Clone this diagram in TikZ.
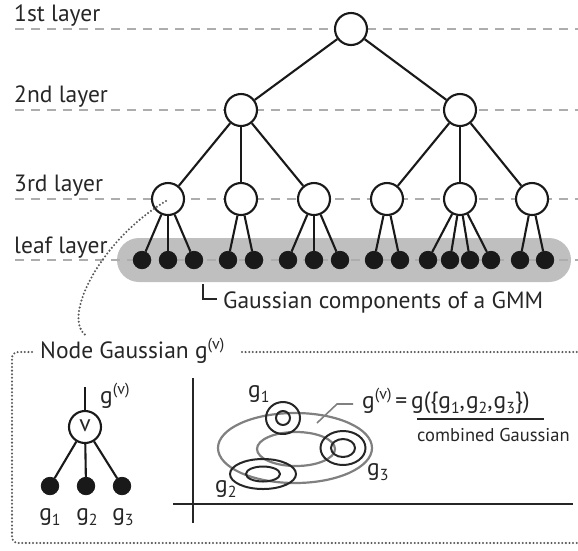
\documentclass[tikz,border=0pt]{standalone}
\usepackage{fontspec}
\setmainfont{PT Sans}
\newcommand\gsup[1]{\raisebox{0.75ex}{\fontsize{16}{16}\selectfont #1}}
\newcommand\gsub[1]{\raisebox{-0.45ex}{\fontsize{16}{16}\selectfont #1}}
\begin{document}
\begin{tikzpicture}[x=1pt,y=-1pt,
  layerline/.style={black!32, line width=2.2pt, dash pattern=on 9pt off 7pt},
  treenode/.style={circle, draw=black!90, fill=white, line width=2.1pt, minimum size=32pt, inner sep=0pt},
  leaf/.style={circle, draw=black!90, fill=black!90, line width=0.8pt, minimum size=17.5pt, inner sep=0pt},
  edge/.style={line width=2.1pt, draw=black!90},
  txt/.style={anchor=base west, inner sep=0pt, text=black!85, font=\fontsize{23.5}{27}\selectfont},
  smalltxt/.style={anchor=base west, inner sep=0pt, text=black!85, font=\fontsize{18.5}{22}\selectfont},
  dotline/.style={black!65, line width=2.3pt, line cap=round, dash pattern=on 0pt off 3.6pt},
  axis/.style={line width=1.7pt, draw=black!85},
  comp/.style={line width=2pt, draw=black!85},
  mix/.style={line width=2.2pt, draw=black!50},
]
\useasboundingbox (0,0) rectangle (578,550);

% layer labels and dashed guide lines
\node[txt] (t1) at (14,21) {1st layer};
\node[txt] (t2) at (14,102) {2nd layer};
\node[txt] (t3) at (14,191) {3rd layer};
\node[txt] (t4) at (14,253) {leaf layer};
\foreach \y in {29,110,199} \draw[layerline] (15,\y) -- (578,\y);

% band holding the leaf Gaussians
\fill[black!25, rounded corners=22pt] (117,238) rectangle (571,282);
\draw[layerline] (15,260) -- (578,260);

% tree
\node[treenode] (r) at (351,29) {};
\node[treenode] (a) at (241,110) {};
\node[treenode] (b) at (460,110) {};
\foreach \n/\x in {c1/168,c2/241,c3/314,c4/387,c5/460,c6/532}
  \node[treenode] (\n) at (\x,199) {};
\foreach \n/\x in {l1/142,l2/168,l3/194,l4/228,l5/254,l6/288,l7/314,l8/340,
                   l9/374,l10/400,l11/428,l12/450,l13/470,l14/491,l15/520,l16/545}
  \node[leaf] (\n) at (\x,260) {};
\foreach \p/\c in {r/a,r/b,a/c1,a/c2,a/c3,b/c4,b/c5,b/c6,
                   c1/l1,c1/l2,c1/l3,c2/l4,c2/l5,c3/l6,c3/l7,c3/l8,
                   c4/l9,c4/l10,c5/l11,c5/l12,c5/l13,c5/l14,c6/l15,c6/l16}
  \draw[edge] (\p) -- (\c);

% label of the leaf band
\node[txt] (gmm) at (223,308) {Gaussian components of a GMM};
\draw[line width=1.3pt, black!85] (203,284) -- (203,299) -- (217,299);

% dotted pointer from a node to the detail box
\coordinate (boxentry) at (87,336);
\draw[dotline] ([shift={(-2,2)}]c1.center) .. controls (100,240) and (60,320) .. (boxentry);

% detail box
\node[txt] (title) at (40,358) {Node Gaussian g\gsup{(v)}};
\draw[dotline, rounded corners=6pt] (32,352) -- (12,352) -- (12,543) -- (578,543);
\draw[dotline] (242,352) -- (578,352);

% small tree: node v and its children
\node[treenode, font=\fontsize{23.5}{27}\selectfont, text=black!85] (v) at (85,427) {\raisebox{0.3ex}{v}};
\coordinate (vtop) at (85,387);
\draw[edge] (vtop) -- (v);
\node[txt] (gv) at (100,403) {g\gsup{(v)}};
\node[leaf] (s1) at (50,486) {};
\node[leaf] (s2) at (86,486) {};
\node[leaf] (s3) at (122,486) {};
\foreach \c in {s1,s2,s3} \draw[edge] (v) -- (\c);
\node[txt, anchor=base] (sg1) at (50,520) {g\gsub{1}};
\node[txt, anchor=base] (sg2) at (87,520) {g\gsub{2}};
\node[txt, anchor=base] (sg3) at (123,520) {g\gsub{3}};

% axes of the feature space
\coordinate (ytop) at (193,378);
\coordinate (ybot) at (193,523);
\coordinate (xl) at (173,504);
\coordinate (xr) at (573,504);
\draw[axis] (ytop) -- (ybot);
\draw[axis] (xl) -- (xr);

% combined Gaussian
\draw[mix] (295,448) ellipse [x radius=77pt, y radius=35pt];
\draw[mix] (296,449) ellipse [x radius=39pt, y radius=17pt];

% component Gaussians
\draw[comp] (283,418) ellipse [x radius=17pt, y radius=16pt];
\draw[comp] (283,418) ellipse [x radius=7pt, y radius=7pt];
\draw[comp] (343,448) ellipse [x radius=22.5pt, y radius=17pt];
\draw[comp] (343,448) ellipse [x radius=12pt, y radius=9pt];
\draw[comp] (263,474) ellipse [x radius=33pt, y radius=15pt];
\draw[comp] (263,474) ellipse [x radius=17pt, y radius=7.5pt];

\node[txt] (lg1) at (248,397) {g\gsub{1}};
\node[txt] (lg2) at (215,492) {g\gsub{2}};
\node[txt] (lg3) at (367,475) {g\gsub{3}};

% formula with its leader and note
\node[txt] (eq) at (362,408) {g\gsup{(v)}\,=\,g(\{g\gsub{1},\kern1pt g\gsub{2},\kern1pt g\gsub{3}\})};
\coordinate (lead0) at (317,423);
\coordinate (lead1) at (337,404);
\coordinate (lead2) at (353,404);
\draw[line width=1.6pt, black!50] (lead0) -- (lead1) -- (lead2);
\coordinate (ul0) at (417,419);
\coordinate (ul1) at (544,419);
\draw[line width=1.3pt, black!85] (ul0) -- (ul1);
\node[smalltxt] (cg) at (417,441) {combined Gaussian};
\end{tikzpicture}
\end{document}
